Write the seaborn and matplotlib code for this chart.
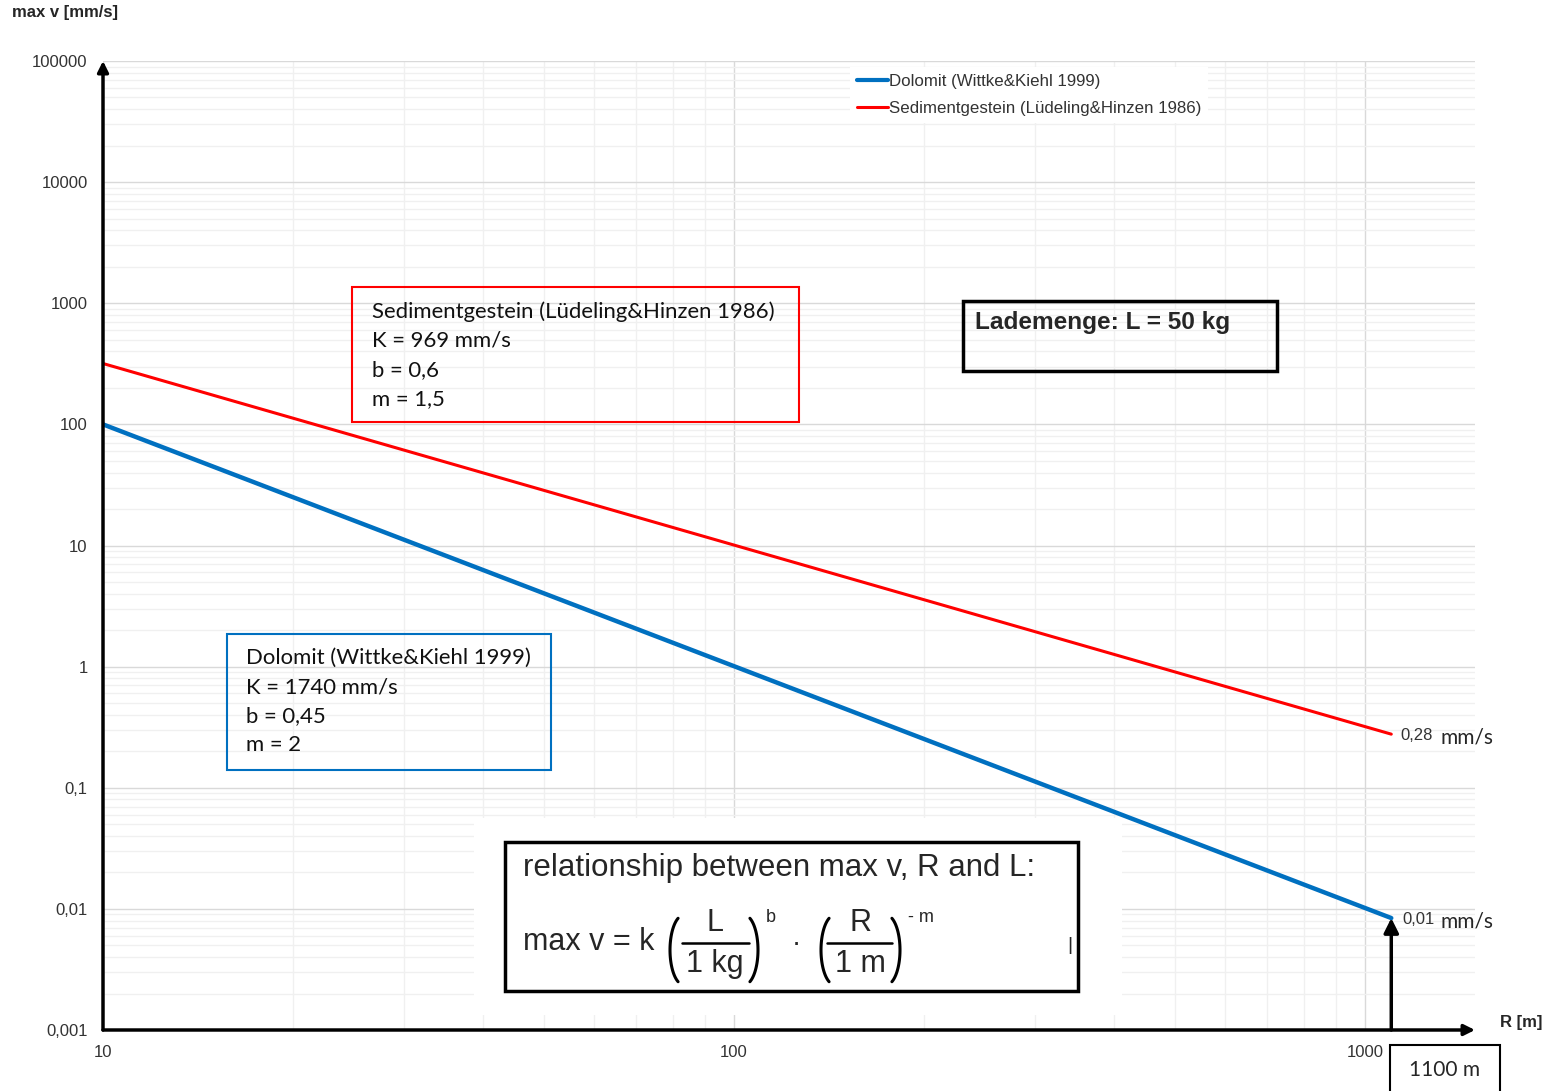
import matplotlib
matplotlib.use("Agg")
import matplotlib.pyplot as plt
from matplotlib.patches import Rectangle
from matplotlib.lines import Line2D
from matplotlib.ticker import LogLocator, FixedLocator, NullFormatter
import numpy as np
import pandas as pd
import seaborn as sns

# data (log-log straight lines, endpoints only)
radius_m = [10, 1100]
dolomit_v = [100, 0.0084]
sediment_v = [318, 0.277]
series_names = ["Dolomit (Wittke&Kiehl 1999)", "Sedimentgestein (Lüdeling&Hinzen 1986)"]
series_colors = ["#0070C0", "#FF0000"]

y_ticks = [0.001, 0.01, 0.1, 1, 10, 100, 1000, 10000, 100000]
y_ticklabels = ["0,001", "0,01", "0,1", "1", "10", "100", "1000", "10000", "100000"]
x_ticks = [10, 100, 1000]
x_ticklabels = ["10", "100", "1000"]

W, H = 1546, 1091

sns.set_theme(style="white")
plt.rcParams["font.family"] = ["Liberation Sans", "DejaVu Sans"]

CAL = ["Lato", "DejaVu Sans"]


def fx(px):
    return px / W


def fy(py):
    return 1 - py / H


def box(x0, y0, x1, y1, color="black", lw=2.0, fill=False, z=3):
    r = Rectangle((fx(x0), fy(y1)), fx(x1) - fx(x0), fy(y0) - fy(y1),
                  transform=fig.transFigure, fill=fill, facecolor="white",
                  edgecolor=color, lw=lw, zorder=z, clip_on=False)
    fig.add_artist(r)


def txt(x, y, s, **kw):
    kw.setdefault("ha", "left")
    kw.setdefault("va", "center")
    return fig.text(fx(x), fy(y), s, **kw)


def paren(x_edge, yc, left=True, a=14, b=35):
    # thin round bracket, outer edge at x_edge (pixels)
    t = np.radians(np.linspace(115, 245, 40))
    if left:
        xs = x_edge + a + a * np.cos(t)
    else:
        xs = x_edge - a - a * np.cos(t)
    ys = yc + b * np.sin(t)
    fig.add_artist(Line2D(fx(xs), fy(ys), transform=fig.transFigure,
                          color="black", lw=2.2, zorder=8))


def hline(x0, x1, y, lw=1.8):
    fig.add_artist(Line2D([fx(x0), fx(x1)], [fy(y), fy(y)], transform=fig.transFigure,
                          color="black", lw=lw, zorder=8))


fig = plt.figure(figsize=(W / 100, H / 100), dpi=100)
ax = fig.add_axes([fx(103), fy(1030), fx(1475) - fx(103), fy(61) - fy(1030)])

df = pd.DataFrame({
    "R": radius_m * 2,
    "v": dolomit_v + sediment_v,
    "Gestein": [series_names[0]] * 2 + [series_names[1]] * 2,
})
sns.lineplot(data=df, x="R", y="v", hue="Gestein", palette=series_colors,
             ax=ax, legend=False, zorder=4)
ax.lines[0].set_linewidth(3.2)
ax.lines[1].set_linewidth(2.2)

ax.set_xscale("log")
ax.set_yscale("log")
ax.set_xlim(10, 1493)
ax.set_ylim(0.001, 100000)

ax.xaxis.set_major_locator(FixedLocator(x_ticks))
ax.set_xticklabels(x_ticklabels)
ax.yaxis.set_major_locator(FixedLocator(y_ticks))
ax.set_yticklabels(y_ticklabels)
ax.xaxis.set_minor_locator(LogLocator(base=10, subs=np.arange(2, 10), numticks=20))
ax.yaxis.set_minor_locator(LogLocator(base=10, subs=np.arange(2, 10), numticks=20))
ax.xaxis.set_minor_formatter(NullFormatter())
ax.yaxis.set_minor_formatter(NullFormatter())
ax.tick_params(which="both", length=0)
ax.tick_params(axis="y", pad=11, labelsize=12, labelcolor="#333333")
ax.tick_params(axis="x", pad=11, labelsize=12, labelcolor="#333333")
ax.set_xlabel("")
ax.set_ylabel("")

ax.grid(True, which="major", color="#d9d9d9", lw=1.0, zorder=0)
ax.grid(True, which="minor", color="#f0f0f0", lw=1.0, zorder=0)
for s in ax.spines.values():
    s.set_visible(False)

# axes with arrow heads
arrow = dict(arrowstyle="-|>", lw=2.5, color="black", mutation_scale=16, shrinkA=0, shrinkB=0)
ax.annotate("", xy=(0, 1), xytext=(0, 0), xycoords="axes fraction",
            arrowprops=arrow, annotation_clip=False, zorder=6)
ax.annotate("", xy=(1, 0), xytext=(0, 0), xycoords="axes fraction",
            arrowprops=arrow, annotation_clip=False, zorder=6)

# arrow pointing to the end of the Dolomit line at 1100 m
ax.annotate("", xy=(radius_m[1], dolomit_v[1]), xytext=(radius_m[1], 0.001),
            arrowprops=dict(arrow, mutation_scale=22), annotation_clip=False, zorder=6)

# legend
handles = [Line2D([], [], color=series_colors[0], lw=3),
           Line2D([], [], color=series_colors[1], lw=2.2)]
leg = ax.legend(handles, series_names, loc="upper left",
                bbox_to_anchor=(fx(850), fy(67)), bbox_transform=fig.transFigure,
                frameon=True, fancybox=False, edgecolor="none", framealpha=1,
                fontsize=12.2, handlelength=1.85, handletextpad=0.05,
                labelspacing=0.72, borderpad=0.4, borderaxespad=0)
for t in leg.get_texts():
    t.set_color("#333333")

# axis titles
txt(12, 13, "max v [mm/s]", fontsize=12, fontweight="bold")
txt(1500, 1023, "R [m]", fontsize=12, fontweight="bold")

# parameter boxes
box(352, 287, 799, 422, color="#FF0000", lw=1.5)
for i, line in enumerate(["Sedimentgestein (Lüdeling&Hinzen 1986)", "K = 969 mm/s",
                          "b = 0,6", "m = 1,5"]):
    txt(372, 312 + 29 * i, line, fontsize=15.9, family=CAL, color="#111111")

box(227, 634, 551, 770, color="#0070C0", lw=1.5)
for i, line in enumerate(["Dolomit (Wittke&Kiehl 1999)", "K = 1740 mm/s",
                          "b = 0,45", "m = 2"]):
    txt(246, 658 + 29 * i, line, fontsize=15.9, family=CAL, color="#111111")

box(963, 301, 1277, 371, lw=2.5)
txt(975, 322, "Lademenge: L = 50 kg", fontsize=17.6, fontweight="bold")

# formula box on white background
box(474, 818, 1122, 1015, color="white", lw=0, fill=True, z=2)
box(505, 842, 1078, 991, lw=2.5, z=7)
txt(523, 868, "relationship between max v, R and L:", fontsize=22.5, zorder=8)
txt(523, 942, "max v = k", fontsize=22, zorder=8)
paren(670, 950, left=True)
txt(715, 923, "L", fontsize=22, ha="center", zorder=8)
hline(682, 749, 943)
txt(715, 964, "1 kg", fontsize=22, ha="center", zorder=8)
paren(758, 950, left=False)
txt(771, 918, "b", fontsize=13, ha="center", zorder=8)
txt(796, 944, "·", fontsize=20, ha="center", zorder=8)
paren(821, 950, left=True)
txt(860, 923, "R", fontsize=22, ha="center", zorder=8)
hline(827, 892, 943)
txt(860, 964, "1 m", fontsize=22, ha="center", zorder=8)
paren(900, 950, left=False)
txt(908, 918, "- m", fontsize=13, zorder=8)
txt(1070, 945, "|", fontsize=14, ha="center", zorder=8)

# end value labels
txt(1400, 736, "0,28", fontsize=12, color="#333333")
txt(1441, 737, "mm/s", fontsize=15, family=CAL)
txt(1402, 920, "0,01", fontsize=12, color="#333333")
txt(1441, 921, "mm/s", fontsize=15, family=CAL)

# distance box
box(1390, 1045, 1500, 1100, lw=1.5)
txt(1445, 1070, "1100 m", fontsize=15, family=CAL, ha="center")

fig.savefig("out.png", dpi=100)
plt.close()
